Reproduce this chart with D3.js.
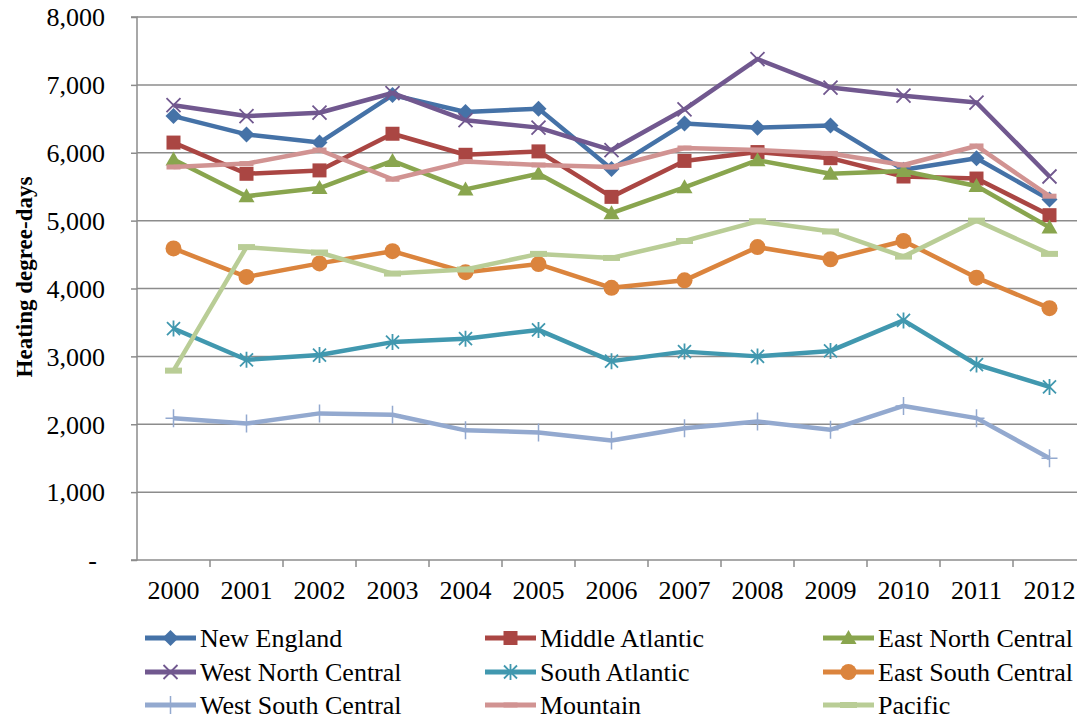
<!DOCTYPE html>
<html>
<head>
<meta charset="utf-8">
<script src="https://cdn.jsdelivr.net/npm/d3@7/dist/d3.min.js"></script>
<style>
  html, body { margin: 0; padding: 0; background: #fff; }
  svg { display: block; font-family: "Liberation Serif", "Times New Roman", serif; }
</style>
</head>
<body>
<svg id="chart" width="1077" height="719"></svg>
<script>
// Heating degree-days by census division, 2000–2012
const years = ["2000","2001","2002","2003","2004","2005","2006","2007","2008","2009","2010","2011","2012"];
const yTicks = [0, 1000, 2000, 3000, 4000, 5000, 6000, 7000, 8000];

const seriesNames = [
  "New England", "Middle Atlantic", "East North Central",
  "West North Central", "South Atlantic", "East South Central",
  "West South Central", "Mountain", "Pacific"
];

const newEngland       = [6540, 6270, 6150, 6850, 6600, 6650, 5760, 6430, 6370, 6400, 5750, 5920, 5310];
const middleAtlantic   = [6150, 5690, 5740, 6280, 5970, 6020, 5350, 5880, 6010, 5920, 5650, 5620, 5080];
const eastNorthCentral = [5900, 5360, 5480, 5880, 5460, 5690, 5110, 5490, 5890, 5690, 5730, 5510, 4900];
const westNorthCentral = [6700, 6540, 6590, 6880, 6480, 6370, 6040, 6640, 7380, 6960, 6840, 6740, 5650];
const southAtlantic    = [3410, 2950, 3020, 3210, 3260, 3390, 2930, 3070, 3000, 3080, 3530, 2880, 2550];
const eastSouthCentral = [4590, 4170, 4370, 4550, 4240, 4360, 4010, 4120, 4610, 4430, 4700, 4160, 3710];
const westSouthCentral = [2090, 2010, 2160, 2140, 1910, 1880, 1760, 1940, 2040, 1920, 2270, 2090, 1500];
const mountain         = [5790, 5840, 6040, 5610, 5870, 5820, 5790, 6070, 6040, 5990, 5820, 6100, 5360];
const pacific          = [2790, 4610, 4530, 4220, 4280, 4510, 4450, 4700, 4990, 4840, 4470, 5000, 4510];

const seriesValues = [newEngland, middleAtlantic, eastNorthCentral, westNorthCentral,
  southAtlantic, eastSouthCentral, westSouthCentral, mountain, pacific];
const colors = ["#4572A7", "#AA4643", "#89A54E", "#71588F", "#4198AF", "#DB843D", "#93A9CF", "#D19392", "#B9CD96"];
const markers = ["diamond", "square", "triangle", "x", "star", "circle", "plus", "dash", "longdash"];

const series = seriesNames.map((name, i) => ({
  name, color: colors[i], marker: markers[i],
  values: seriesValues[i].map((v, j) => ({ year: years[j], value: v }))
}));

const svg = d3.select("#chart");
const plot = { left: 137, top: 17, bottom: 560, right: 137 + 13 * 73 };

const x = d3.scaleBand().domain(years).range([plot.left, plot.right]).padding(0);
const cx = d => x(d) + x.bandwidth() / 2;
const y = d3.scaleLinear().domain([0, 8000]).range([plot.bottom, plot.top]);

const gridColor = "#8c8c8c";

// horizontal gridlines
svg.append("g").selectAll("line")
  .data(yTicks.filter(t => t > 0))
  .join("line")
  .attr("x1", plot.left).attr("x2", plot.right)
  .attr("y1", d => y(d)).attr("y2", d => y(d))
  .attr("stroke", gridColor).attr("stroke-width", 1.5);

// y axis
const fmt = d3.format(",");
const yAxis = d3.axisLeft(y).tickValues(yTicks).tickSize(6).tickPadding(26)
  .tickFormat(d => d === 0 ? "-" : fmt(d));
const gy = svg.append("g").attr("transform", `translate(${plot.left},0)`).call(yAxis);
gy.select(".domain").attr("stroke", gridColor).attr("stroke-width", 1.5).attr("d", `M-6,${plot.top}H0V${plot.bottom}H-6`);
gy.selectAll(".tick line").attr("stroke", gridColor).attr("stroke-width", 1.5);
gy.selectAll(".tick text")
  .attr("font-family", "Liberation Serif").attr("font-size", 26).attr("fill", "#000")
  .attr("dy", "0.34em")
  .attr("dx", d => d === 0 ? -8 : 0);

// x axis with ticks between categories
const xAxis = d3.axisBottom(x).tickSize(0).tickPadding(14);
const gx = svg.append("g").attr("transform", `translate(0,${plot.bottom})`).call(xAxis);
gx.select(".domain").attr("stroke", gridColor).attr("stroke-width", 1.5).attr("d", `M${plot.left},0H${plot.right}`);
gx.selectAll(".tick text")
  .attr("font-family", "Liberation Serif").attr("font-size", 26).attr("fill", "#000").attr("dy", "0.95em");
gx.selectAll(".between")
  .data(years.slice(1).concat(["end"]))
  .join("line").attr("class", "between")
  .attr("x1", (d, i) => x(years[i]) + x.bandwidth())
  .attr("x2", (d, i) => x(years[i]) + x.bandwidth())
  .attr("y1", 0).attr("y2", 7)
  .attr("stroke", gridColor).attr("stroke-width", 1.5);

// y axis title
svg.append("text")
  .attr("transform", `translate(32,277) rotate(-90)`)
  .attr("text-anchor", "middle")
  .attr("font-family", "Liberation Serif").attr("font-weight", "bold").attr("font-size", 23)
  .text("Heating degree-days");

// marker drawing
function drawMarker(g, type, color) {
  switch (type) {
    case "diamond":
      g.append("path").attr("d", "M0,-8L8,0L0,8L-8,0Z").attr("fill", color);
      break;
    case "square":
      g.append("rect").attr("x", -7).attr("y", -7).attr("width", 14).attr("height", 14).attr("fill", color);
      break;
    case "triangle":
      g.append("path").attr("d", "M0,-8L8,6L-8,6Z").attr("fill", color);
      break;
    case "x":
      g.append("path").attr("d", "M-7,-7L7,7M-7,7L7,-7").attr("stroke", color).attr("stroke-width", 1.8).attr("fill", "none");
      break;
    case "star":
      g.append("path").attr("d", "M-6.5,-6.5L6.5,6.5M-6.5,6.5L6.5,-6.5M0,-8V8").attr("stroke", color).attr("stroke-width", 1.8).attr("fill", "none");
      break;
    case "circle":
      g.append("circle").attr("r", 8).attr("fill", color);
      break;
    case "plus":
      g.append("path").attr("d", "M0,-9V9M-8,0H8").attr("stroke", color).attr("stroke-width", 1.5).attr("fill", "none");
      break;
    case "dash":
      g.append("rect").attr("x", -7).attr("y", -2.5).attr("width", 14).attr("height", 5).attr("fill", color);
      break;
    case "longdash":
      g.append("rect").attr("x", -8.5).attr("y", -3).attr("width", 17).attr("height", 6).attr("fill", color);
      break;
  }
}

const line = d3.line().x(d => cx(d.year)).y(d => y(d.value));

// one group per series: line, then markers
const sg = svg.append("g").selectAll("g").data(series).join("g");
sg.append("path")
  .attr("d", d => line(d.values))
  .attr("fill", "none")
  .attr("stroke", d => d.color)
  .attr("stroke-width", 4.5)
  .attr("stroke-linejoin", "round");
sg.each(function (s) {
  const g = d3.select(this);
  s.values.forEach(p => {
    drawMarker(g.append("g").attr("transform", `translate(${cx(p.year)},${y(p.value)})`), s.marker, s.color);
  });
});

// legend: three columns, three rows
const legendCols = [145, 485, 823];
const legendRows = [638, 672, 705];
const lg = svg.append("g").selectAll("g").data(series).join("g")
  .attr("transform", (d, i) => `translate(${legendCols[i % 3]},${legendRows[Math.floor(i / 3)]})`);
lg.append("line").attr("x1", 0).attr("x2", 51).attr("y1", 0).attr("y2", 0)
  .attr("stroke", d => d.color).attr("stroke-width", 5);
lg.each(function (s) {
  drawMarker(d3.select(this).append("g").attr("transform", "translate(25.5,0)"), s.marker, s.color);
});
lg.append("text").attr("x", 55).attr("y", 0).attr("dy", "0.33em")
  .attr("font-family", "Liberation Serif").attr("font-size", 26).attr("fill", "#000")
  .text(d => d.name);
</script>
</body>
</html>
